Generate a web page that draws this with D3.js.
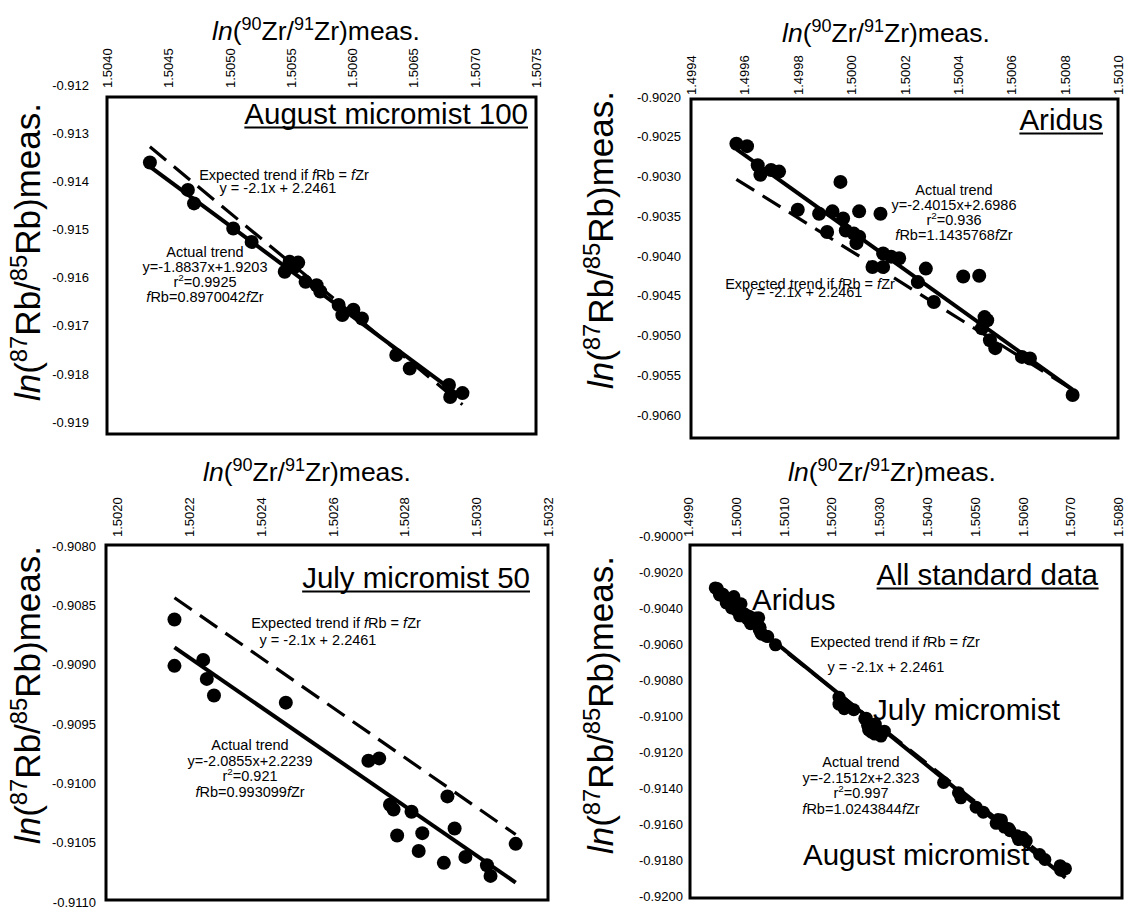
<!DOCTYPE html>
<html>
<head>
<meta charset="utf-8">
<script src="https://cdn.jsdelivr.net/npm/d3@7"></script>
<style>
  html, body { margin: 0; padding: 0; background: #fff; }
  svg { display: block; }
  text { font-family: "Liberation Sans", Arial, Helvetica, sans-serif; fill: #000; }
</style>
</head>
<body>
<svg id="chart" width="1124" height="909"></svg>
<script>
// ---- measurements: ln(90Zr/91Zr) (x) and ln(87Rb/85Rb) (y) ----
const augustX = [1.50435, 1.50466, 1.50471, 1.50503, 1.50518, 1.50549, 1.50556, 1.50545, 1.50553, 1.50562, 1.50571,
                 1.50574, 1.50589, 1.50592, 1.50601, 1.50608, 1.50636, 1.50647, 1.50679, 1.50680, 1.50690];
const augustY = [-0.91336, -0.91393, -0.91421, -0.91473, -0.91501, -0.91542, -0.91544, -0.91563, -0.91553, -0.91584, -0.91591,
                 -0.91604, -0.91632, -0.91653, -0.91642, -0.91660, -0.91736, -0.91764, -0.91798, -0.91823, -0.91815];

const aridusX = [1.49957, 1.49961, 1.49965, 1.49966, 1.49970, 1.49973, 1.49996, 1.49980, 1.49988, 1.49993, 1.49991, 1.49997,
                 1.50003, 1.49998, 1.50001, 1.50003, 1.50002, 1.50011, 1.50012, 1.50015, 1.50018, 1.50008, 1.50012, 1.50028,
                 1.50025, 1.50042, 1.50048, 1.50031, 1.50050, 1.50051, 1.50049, 1.50052, 1.50054, 1.50064, 1.50067, 1.50083];
const aridusY = [-0.90255, -0.90258, -0.90282, -0.90294, -0.90288, -0.90290, -0.90303, -0.90338, -0.90343, -0.90340, -0.90366, -0.90349,
                 -0.90340, -0.90364, -0.90368, -0.90372, -0.90380, -0.90343, -0.90393, -0.90397, -0.90399, -0.90410, -0.90410, -0.90412,
                 -0.90429, -0.90422, -0.90421, -0.90454, -0.90473, -0.90477, -0.90487, -0.90502, -0.90512, -0.90523, -0.90525, -0.90571];

const julyX = [1.50216, 1.50216, 1.50224, 1.50225, 1.50227, 1.50247, 1.50270, 1.50273, 1.50276, 1.50277, 1.50282,
               1.50292, 1.50278, 1.50285, 1.50294, 1.50284, 1.50291, 1.50297, 1.50303, 1.50304, 1.50311];
const julyY = [-0.90862, -0.90901, -0.90896, -0.90912, -0.90926, -0.90932, -0.90981, -0.90979, -0.91018, -0.91022, -0.91024,
               -0.91011, -0.91044, -0.91042, -0.91038, -0.91057, -0.91067, -0.91062, -0.91069, -0.91078, -0.91051];

// ---- trend lines: [slope, intercept] ----
const expectedFit = [-2.1, 2.2461];
const augustFit = [-1.8837, 1.9203];
const aridusFit = [-2.4015, 2.6986];
const julyFit = [-2.0855, 2.2239];
const allFit = [-2.1512, 2.323];

// r² and fRb/fZr ratio printed beside each fit
const augustStats = ["0.9925", "0.8970042"];
const aridusStats = ["0.936", "1.1435768"];
const julyStats = ["0.921", "0.993099"];
const allStats = ["0.997", "1.0243844"];

// ---- tick labels ----
const augustXTicks = [1.5040, 1.5045, 1.5050, 1.5055, 1.5060, 1.5065, 1.5070, 1.5075];
const augustYTicks = [-0.912, -0.913, -0.914, -0.915, -0.916, -0.917, -0.918, -0.919];
const aridusXTicks = [1.4994, 1.4996, 1.4998, 1.5000, 1.5002, 1.5004, 1.5006, 1.5008, 1.5010];
const aridusYTicks = [-0.9020, -0.9025, -0.9030, -0.9035, -0.9040, -0.9045, -0.9050, -0.9055, -0.9060];
const julyXTicks = [1.5020, 1.5022, 1.5024, 1.5026, 1.5028, 1.5030, 1.5032];
const julyYTicks = [-0.9080, -0.9085, -0.9090, -0.9095, -0.9100, -0.9105, -0.9110];
const allXTicks = [1.4990, 1.5000, 1.5010, 1.5020, 1.5030, 1.5040, 1.5050, 1.5060, 1.5070, 1.5080];
const allYTicks = [-0.9000, -0.9020, -0.9040, -0.9060, -0.9080, -0.9100, -0.9120, -0.9140, -0.9160, -0.9180, -0.9200];

const svg = d3.select("#chart");
const FONT_TICK = 13, FONT_TITLE = 26.5, FONT_YTITLE = 35, FONT_NOTE = 14.5, FONT_LABEL = 29.5;

// text built from segments: {t, i: italic, sup: superscript}
function richText(parent, segs, size) {
  const t = parent.append("text").attr("font-size", size);
  let raised = false;
  const shift = size * 0.38;
  segs.forEach(s => {
    const sp = t.append("tspan").text(s.t);
    if (s.i) sp.attr("font-style", "italic");
    if (s.sup) {
      sp.attr("font-size", size * 0.68);
      if (!raised) sp.attr("dy", -shift);
      raised = true;
    } else if (raised) {
      sp.attr("dy", shift);
      raised = false;
    }
  });
  return t;
}

const zrTitle = [{ t: "ln", i: true }, { t: "(" }, { t: "90", sup: true }, { t: "Zr/" }, { t: "91", sup: true }, { t: "Zr)meas." }];
const rbTitle = [{ t: "ln", i: true }, { t: "(" }, { t: "87", sup: true }, { t: "Rb/" }, { t: "85", sup: true }, { t: "Rb)meas." }];

const expectedLines = fit => [
  [{ t: "Expected trend if " }, { t: "f", i: true }, { t: "Rb = " }, { t: "f", i: true }, { t: "Zr" }],
  [{ t: `y = ${fit[0]}x + ${fit[1]}` }]
];
const actualLines = (fit, stats) => [
  [{ t: "Actual trend" }],
  [{ t: `y=${fit[0]}x+${fit[1]}` }],
  [{ t: "r" }, { t: "2", sup: true }, { t: "=" + stats[0] }],
  [{ t: "f", i: true }, { t: "Rb=" + stats[1] }, { t: "f", i: true }, { t: "Zr" }]
];

const panels = [
  {
    label: "August micromist 100", xs: augustX, ys: augustY, fit: augustFit, stats: augustStats,
    xTicks: augustXTicks, yTicks: augustYTicks, xDec: 4, yDec: 3,
    xDomain: [1.5040, 1.5075], xRange: [107, 536], yDomain: [-0.912, -0.919], yRange: [97, 434],
    box: [107, 97, 536, 434], xLabelBase: 88, yLabelRight: 89, yLabelShift: -12,
    xTitle: [316, 40], yTitle: [28, 252], labelPos: [528, 124],
    expectedAt: [[284, 180], [278, 193]], actualAt: [205, 257], actualStep: 15, radius: 7
  },
  {
    label: "Aridus", xs: aridusX, ys: aridusY, fit: aridusFit, stats: aridusStats,
    xTicks: aridusXTicks, yTicks: aridusYTicks, xDec: 4, yDec: 4,
    xDomain: [1.4994, 1.5010], xRange: [691, 1118], yDomain: [-0.9020, -0.90625], yRange: [100, 438],
    box: [691, 99, 1118, 438], xLabelBase: 95, yLabelRight: 681, yLabelShift: -3,
    xTitle: [886, 42], yTitle: [601, 240], labelPos: [1103, 130],
    expectedAt: [[810, 289], [804, 297]], actualAt: [954, 195], actualStep: 15, radius: 7
  },
  {
    label: "July micromist 50", xs: julyX, ys: julyY, fit: julyFit, stats: julyStats,
    xTicks: julyXTicks, yTicks: julyYTicks, xDec: 4, yDec: 4,
    xDomain: [1.5020, 1.5032], xRange: [117, 548], yDomain: [-0.9080, -0.9110], yRange: [546, 902],
    box: [106, 545, 548, 900], xLabelBase: 537, yLabelRight: 96, yLabelShift: 0,
    xTitle: [307, 481], yTitle: [28, 695], labelPos: [530, 588],
    expectedAt: [[336, 628], [318, 645]], actualAt: [250, 750], actualStep: 15.5, radius: 7
  },
  {
    label: "All standard data", xs: aridusX.concat(julyX, augustX), ys: aridusY.concat(julyY, augustY),
    fit: allFit, stats: allStats,
    xTicks: allXTicks, yTicks: allYTicks, xDec: 4, yDec: 4,
    xDomain: [1.4990, 1.5080], xRange: [688, 1118], yDomain: [-0.9000, -0.9200], yRange: [542, 902],
    box: [690, 545, 1122, 898], xLabelBase: 537, yLabelRight: 683, yLabelShift: -6,
    xTitle: [892, 481], yTitle: [601, 705], labelPos: [1098, 585],
    expectedAt: [[895, 647], [886, 672]], actualAt: [861, 767], actualStep: 15.5, radius: 6.5,
    groups: [["Aridus", 752, 610], ["July micromist", 873, 720], ["August micromist", 803, 865]]
  }
];

panels.forEach(p => {
  const g = svg.append("g");
  const x = d3.scaleLinear().domain(p.xDomain).range(p.xRange);
  const y = d3.scaleLinear().domain(p.yDomain).range(p.yRange);

  // frame
  g.append("rect")
    .attr("x", p.box[0]).attr("y", p.box[1])
    .attr("width", p.box[2] - p.box[0]).attr("height", p.box[3] - p.box[1])
    .attr("fill", "none").attr("stroke", "#000").attr("stroke-width", 3);

  // top axis, labels turned on their side
  const xa = g.append("g")
    .attr("transform", `translate(0,${p.xLabelBase})`)
    .call(d3.axisTop(x).tickValues(p.xTicks).tickSize(0).tickFormat(d => d.toFixed(p.xDec)));
  xa.select(".domain").remove();
  xa.selectAll("text")
    .attr("x", 0).attr("y", 0).attr("dy", "0.35em")
    .attr("transform", "rotate(-90)")
    .attr("text-anchor", "start")
    .attr("font-size", FONT_TICK)
    .attr("font-family", null);

  // left axis
  const ya = g.append("g")
    .attr("transform", `translate(${p.yLabelRight + 3},${p.yLabelShift})`)
    .call(d3.axisLeft(y).tickValues(p.yTicks).tickSize(0).tickFormat(d => d.toFixed(p.yDec)));
  ya.select(".domain").remove();
  ya.selectAll("text").attr("font-size", FONT_TICK).attr("font-family", null);

  // axis titles
  richText(g, zrTitle, FONT_TITLE)
    .attr("x", p.xTitle[0]).attr("y", p.xTitle[1])
    .attr("text-anchor", "middle");
  richText(g, rbTitle, FONT_YTITLE)
    .attr("transform", `translate(${p.yTitle[0]},${p.yTitle[1]}) rotate(-90)`)
    .attr("dy", "0.35em")
    .attr("text-anchor", "middle");

  // trend lines over the span of the data
  const xExt = d3.extent(p.xs);
  const line = d3.line().x(d => x(d[0])).y(d => y(d[1]));
  const fitPts = f => xExt.map(v => [v, f[0] * v + f[1]]);
  g.append("path").attr("d", line(fitPts(expectedFit)))
    .attr("fill", "none").attr("stroke", "#000").attr("stroke-width", 3.2)
    .attr("stroke-dasharray", "21,10");
  g.append("path").attr("d", line(fitPts(p.fit)))
    .attr("fill", "none").attr("stroke", "#000").attr("stroke-width", 4);

  // measurements
  g.append("g").selectAll("circle")
    .data(p.xs.map((v, i) => [v, p.ys[i]]))
    .join("circle")
    .attr("cx", d => x(d[0])).attr("cy", d => y(d[1]))
    .attr("r", p.radius).attr("fill", "#000");

  // fit notes
  expectedLines(expectedFit).forEach((segs, i) => {
    richText(g, segs, FONT_NOTE)
      .attr("x", p.expectedAt[i][0]).attr("y", p.expectedAt[i][1])
      .attr("text-anchor", "middle");
  });
  actualLines(p.fit, p.stats).forEach((segs, i) => {
    richText(g, segs, FONT_NOTE)
      .attr("x", p.actualAt[0]).attr("y", p.actualAt[1] + i * p.actualStep)
      .attr("text-anchor", "middle");
  });

  // group names inside the combined panel
  (p.groups || []).forEach(gr => {
    g.append("text").attr("x", gr[1]).attr("y", gr[2])
      .attr("font-size", FONT_LABEL).text(gr[0]);
  });

  // underlined panel label
  const lab = g.append("text")
    .attr("x", p.labelPos[0]).attr("y", p.labelPos[1])
    .attr("text-anchor", "end").attr("font-size", FONT_LABEL)
    .text(p.label);
  const bb = lab.node().getBBox();
  g.append("line")
    .attr("x1", bb.x).attr("x2", bb.x + bb.width)
    .attr("y1", p.labelPos[1] + 3.5).attr("y2", p.labelPos[1] + 3.5)
    .attr("stroke", "#000").attr("stroke-width", 2);
});
</script>
</body>
</html>
